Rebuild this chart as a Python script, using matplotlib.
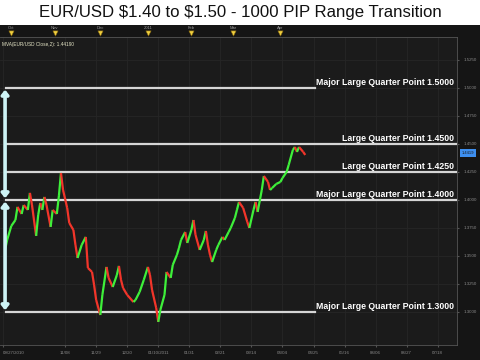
import numpy as np
import matplotlib
matplotlib.use("Agg")
import matplotlib.pyplot as plt
from matplotlib.collections import LineCollection
from matplotlib.patches import Rectangle, FancyArrowPatch
import matplotlib.transforms as mtransforms

# trading day number (0 = 2010-09-27) and 2-period MA of EUR/USD close
day = [1, 2, 4, 6, 7, 9, 10, 12, 13, 14, 16, 17, 18, 19, 20, 21, 23, 24, 26, 27,
       28, 29, 31, 32, 34, 35, 36, 38, 40, 41, 43, 44, 45, 47, 48, 50, 51, 53, 55, 56,
       57, 58, 60, 63, 64, 66, 68, 70, 71, 72, 74, 75, 76, 78, 79, 81, 82, 84, 85, 86,
       88, 89, 91, 92, 93, 95, 97, 98, 99, 100, 101, 103, 104, 106, 107, 109, 110, 112, 113, 114,
       116, 118, 119, 121, 122, 123, 125, 126, 128, 129, 130, 132, 134, 135, 137, 138, 140, 141, 142, 143,
       145, 146]
mva = [1.3554, 1.3643, 1.3768, 1.3821, 1.3938, 1.3875, 1.3955, 1.3911, 1.4063, 1.3955,
       1.3679, 1.3866, 1.3973, 1.3911, 1.4027, 1.3955, 1.3759, 1.3911, 1.3875, 1.4036,
       1.4241, 1.4089, 1.3929, 1.3795, 1.3732, 1.3598, 1.3482, 1.3598, 1.3670, 1.3393,
       1.3357, 1.3241, 1.3107, 1.2973, 1.3152, 1.3402, 1.3304, 1.3223, 1.3330, 1.3411,
       1.3286, 1.3214, 1.3152, 1.3089, 1.3107, 1.3179, 1.3286, 1.3402, 1.3330, 1.3196,
       1.3036, 1.2911, 1.3018, 1.3152, 1.3357, 1.3304, 1.3420, 1.3509, 1.3571, 1.3643,
       1.3714, 1.3616, 1.3732, 1.3821, 1.3688, 1.3554, 1.3643, 1.3723, 1.3598, 1.3509,
       1.3446, 1.3554, 1.3598, 1.3670, 1.3643, 1.3714, 1.3750, 1.3839, 1.3911, 1.3982,
       1.3929, 1.3804, 1.3750, 1.3911, 1.3982, 1.3893, 1.4089, 1.4214, 1.4161, 1.4089,
       1.4107, 1.4143, 1.4161, 1.4196, 1.4250, 1.4313, 1.4446, 1.4473, 1.4429, 1.4473,
       1.4429, 1.4402]

levels = [1.5000, 1.4500, 1.4250, 1.4000, 1.3000]
level_labels = ["Major Large Quarter Point 1.5000", "Large Quarter Point 1.4500",
                "Large Quarter Point 1.4250", "Major Large Quarter Point 1.4000",
                "Major Large Quarter Point 1.3000"]

start = "2010-09-27"
tick_dates = ["2010-09-27", "2010-11-08", "2010-11-29", "2010-12-20", "2011-01-10",
              "2011-01-31", "2011-02-21", "2011-03-14", "2011-04-04", "2011-04-25",
              "2011-05-16", "2011-06-06", "2011-06-27", "2011-07-18"]
tick_labels = ["09/27/2010", "11/08", "11/29", "12/20", "01/10/2011", "01/31", "02/21",
               "03/14", "04/04", "04/25", "05/16", "06/06", "06/27", "07/18"]
month_dates = ["2010-10-01", "2010-11-01", "2010-12-01", "2011-01-03", "2011-02-01",
               "2011-03-01", "2011-04-01"]
month_labels = ["Oct", "Nov", "Dec", "2011", "Feb", "Mar", "Apr"]
yticks = [1.3000, 1.3250, 1.3500, 1.3750, 1.4000, 1.4250, 1.4500, 1.4750, 1.5000, 1.5250]
last_close = 1.44190

tick_x = np.busday_count(start, tick_dates)
month_x = np.busday_count(start, month_dates)

plt.rcParams['font.family'] = ['Liberation Sans', 'DejaVu Sans']

fig = plt.figure(figsize=(4.8, 3.6), dpi=100)
fig.patch.set_facecolor("#151515")
fig.patches.append(Rectangle((0, 335 / 360), 1, 25 / 360, transform=fig.transFigure,
                             facecolor="white", edgecolor="none", zorder=-10))
fig.text(0.5, 0.965, "EUR/USD \\$1.40 to \\$1.50 - 1000 PIP Range Transition",
         ha="center", va="center", fontsize=12.1, color="#111111")

ax = fig.add_axes([0, 15 / 360, 457 / 480, 308 / 360])
ax.set_facecolor("#1b1b1b")
ax.set_xlim(-1.45, 219.3)
ax.set_ylim(1.2705, 1.5455)
for s in ax.spines.values():
    s.set_color("#555555")
    s.set_linewidth(0.6)
ax.spines["left"].set_visible(False)

ax.set_yticks(yticks)
ax.set_yticklabels(["%.4f" % v for v in yticks], fontsize=3.2, color="#8a8a8a")
ax.yaxis.tick_right()
ax.tick_params(axis="y", length=1.5, color="#555555", pad=3)
ax.set_xticks(tick_x)
ax.set_xticklabels(tick_labels, fontsize=3.2, color="#8a8a8a")
ax.get_xticklabels()[0].set_ha("left")
ax.tick_params(axis="x", length=1.5, color="#555555", pad=3)
ax.grid(True, color="#262626", linewidth=0.6)
ax.set_axisbelow(True)

# levels
for lv, lab in zip(levels, level_labels):
    full = lab.startswith("Large") or lv == 1.4
    x1 = 219.3 if full else 150.5
    ax.plot([1.5, x1], [lv, lv], color="#d6d6d6", lw=1.6, zorder=2)
    ax.text(218, lv + 0.0008, lab, ha="right", va="bottom", fontsize=6.3,
            fontweight="bold", color="white", zorder=5)

# price line coloured by direction
pts = np.column_stack([day, mva])
segs = np.stack([pts[:-1], pts[1:]], axis=1)
cols = ["#3ef03a" if b >= a else "#f2352a" for a, b in zip(mva[:-1], mva[1:])]
ax.add_collection(LineCollection(segs, colors=cols, linewidths=1.6, zorder=4))

# range arrows
for y0, y1 in [(1.4985, 1.4015), (1.3985, 1.3015)]:
    ax.add_patch(FancyArrowPatch((1.0, y0), (1.0, y1), arrowstyle="<|-|>,head_width=2,head_length=2.5",
                                 color="#cdf3f5", lw=2.6, mutation_scale=1, zorder=6,
                                 shrinkA=0, shrinkB=0))

# month markers above plot
trans = mtransforms.blended_transform_factory(ax.transData, ax.transAxes)
ax.scatter(month_x, [1.013] * len(month_x), marker="v", s=14, color="#f0d040",
           edgecolors="#8a6a10", linewidths=0.4, transform=trans, clip_on=False, zorder=7)
for mx, ml in zip(month_x, month_labels):
    ax.text(mx, 1.03, ml, transform=trans, ha="center", va="center", fontsize=3,
            color="#9a9a9a", clip_on=False)
ax.text(-0.5, 0.975, "MVA(EUR/USD Close,2): %.5f" % last_close, transform=trans,
        ha="left", va="center", fontsize=3.4, color="#e8e8c8")

# last value tag
ax.text(221.5, last_close, "%.4f" % last_close, ha="left", va="center", fontsize=3,
        color="#1a1a1a", clip_on=False,
        bbox=dict(boxstyle="square,pad=0.4", facecolor="#3d8ff0", edgecolor="none"))

fig.savefig("out.png", dpi=100, facecolor=fig.get_facecolor())
